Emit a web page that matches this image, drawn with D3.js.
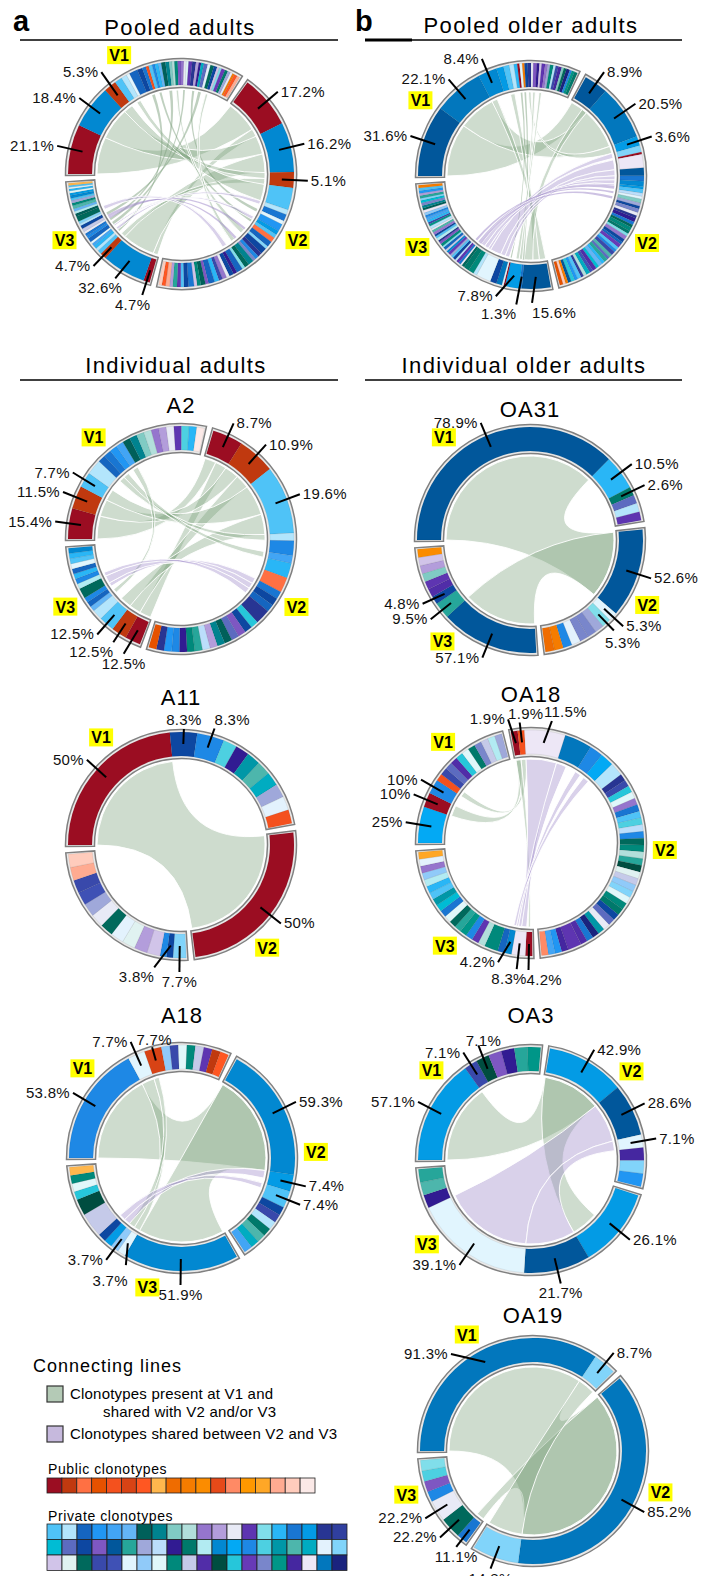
<!DOCTYPE html>
<html><head><meta charset="utf-8">
<script src="https://cdn.jsdelivr.net/npm/d3@7"></script>
<style>body{margin:0;background:#fff}svg{display:block}</style>
</head><body>
<svg id="c" width="706" height="1576"></svg>
<script>
// ================= DATA =================
const publicColors = ["#9b0d22","#c0390f","#ff7043","#e65100","#f4511e","#d84315","#ff5722","#ffb74d","#ef6c00","#f57c00","#fb8c00","#e64a19","#ff8a65","#ff9800","#ffa726","#ffab91","#ffccbc","#fbe9e7"];
const privateColors = [
 "#4fc3f7","#b3e5fc","#1565c0","#2196f3","#42a5f5","#64b5f6","#00605a","#00838f","#80cbc4","#b2dfdb","#9575cd","#b39ddb","#e8eaf6","#5e35b1","#80deea","#29b6f6","#1976d2","#039be5","#283593","#303f9f",
 "#00bcd4","#5c6bc0","#0d47a1","#7e57c2","#01579b","#26a69a","#9fa8da","#bbdefb","#311b92","#00796b","#b2ebf2","#0288d1","#03a9f4","#1e88e5","#4dd0e1","#0097a7","#4db6ac","#00acc1","#e3f2fd","#81d4fa",
 "#d1c4e9","#e0f2f1","#00695c","#3949ab","#3f51b5","#e1f5fe","#90caf9","#e0f7fa","#00897b","#c5cae9","#512da8","#004d40","#26c6da","#673ab7","#7986cb","#009688","#4527a0","#ede7f6","#0277bd","#1a237e"];

// Segments: [percent, colour key]  ("rN" = public colour N, number = private colour index)
// Ribbons: [sector, segment, sector, segment, "g"|"p", optional fraction range, optional fraction range]

// ---- Pooled adults ----
const paSizes = [121,155,69];
const paV1 = [[21.1,"r0"],[18.4,31],[5.3,"r1"],[3.2,0],[2.4,1],[1.4,45],[3.6,2],[2.2,22],[1.6,16],[1.2,"r4"],[1.5,0],[1.2,33],[1.5,15],[1.2,5],[1.8,6],[1.6,7],[1.2,8],[1.0,9],[1.4,48],[1.4,23],[1.2,10],[1.0,12],[1.0,47],[1.5,13],[1.6,18],[1.2,11],[1.0,28],[1.2,37],[1.6,21],[1.2,38],[1.5,42],[1.4,22],[1.0,40],[1.0,14],[1.5,53],[1.3,29],[1.2,26],[1.0,12],[0.8,"r9"],[1.4,"r6"],[1.2,"r15"]];
const paV2 = [[17.2,"r0"],[16.2,31],[5.1,"r1"],[7.2,0],[1.6,1],[2.2,16],[1.2,45],[2.4,3],[1.4,17],[1.2,0],[1.6,"r2"],[1.8,2],[1.0,39],[2.0,22],[1.4,18],[1.2,33],[1.0,54],[1.8,7],[1.5,42],[1.0,14],[2.0,2],[1.2,28],[1.5,22],[1.0,12],[1.4,10],[1.2,43],[1.5,15],[2.0,2],[1.0,23],[1.5,6],[1.2,48],[1.0,40],[1.8,16],[1.5,22],[1.0,0],[1.2,13],[1.4,25],[1.0,11],[1.3,"r15"],[1.2,"r6"],[1.0,"r16"]];
const paV3 = [[4.7,"r0"],[32.6,31],[4.7,"r1"],[3.0,0],[2.2,1],[2.6,15],[2.0,4],[1.6,45],[3.0,2],[2.2,33],[2.0,16],[1.8,12],[2.4,49],[2.6,22],[1.6,1],[1.8,39],[4.0,42],[2.2,6],[1.8,30],[2.0,5],[2.4,36],[2.0,48],[1.9,26],[1.6,0],[2.2,31],[1.8,17],[1.6,47],[1.5,15],[1.2,45],[1.4,0],[1.6,"r7"]];
const paRib = [[0,0,1,0,"g",null,[0,0.8]],[2,0,1,0,"g",null,[0.8,1]],[0,1,1,1,"g",null,[0,0.5]],[2,1,1,1,"g",null,[0.5,1]],[0,2,1,2,"g",null,[0,0.5]],[2,2,1,2,"g",null,[0.5,1]],
 [0,4,1,3,"g"],[0,8,2,4,"g"],[0,11,1,9,"g"],[0,15,2,10,"g"],[0,18,1,13,"g"],[0,21,2,8,"g"],[0,25,1,6,"g"],[0,28,2,13,"g"],[0,31,1,17,"g"],
 [1,4,2,5,"p"],[1,8,2,7,"p"],[1,12,2,11,"p"],[1,16,2,12,"p"],[1,20,2,16,"p"]];
const paLab = [[0,0],[0,1],[0,2],[1,0],[1,1],[1,2],[2,0],[2,1],[2,2]];

// ---- Pooled older adults ----
const pbSizes = [115,137,96];
const pbV1 = [[31.6,24],[22.1,58],[8.4,31],[3.2,17],[2.6,0],[2.0,1],[1.5,15],[1.0,"r0"],[1.2,45],[1.0,"r9"],[1.4,22],[1.5,18],[1.0,12],[1.5,23],[1.2,28],[1.0,40],[1.5,13],[1.2,10],[1.0,26],[1.5,48],[1.0,1],[1.2,43],[1.5,56],[1.0,8],[1.2,42],[1.5,59],[1.0,33],[1.2,55],[1.4,29]];
const pbV2 = [[8.9,24],[20.5,58],[3.6,17],[2.5,39],[0.8,"r0"],[5.0,57],[3.0,24],[2.0,16],[2.0,31],[1.0,17],[1.5,0],[1.2,27],[1.0,45],[1.5,8],[1.2,26],[1.0,22],[1.5,54],[1.2,12],[1.0,18],[1.5,28],[1.2,16],[1.0,42],[1.5,48],[1.2,29],[1.0,14],[1.5,10],[1.2,22],[1.0,2],[1.5,53],[1.2,0],[1.0,33],[1.5,43],[1.2,36],[1.0,21],[1.4,25],[1.2,15],[1.5,5],[1.2,20],[1.5,50],[1.3,44],[1.5,37],[1.2,9],[1.0,19],[1.4,0],[1.2,3],[1.4,52],[1.2,24],[1.0,"r9"],[1.0,"r16"],[1.2,"r3"]];
const pbV3 = [[15.6,24],[1.3,16],[7.8,17],[0.8,"r0"],[1.0,45],[3.0,58],[3.5,22],[8.0,45],[2.0,1],[3.0,48],[3.0,29],[1.5,42],[1.0,12],[1.2,16],[1.5,13],[1.0,27],[1.5,22],[1.2,0],[1.0,26],[1.5,53],[1.2,31],[1.0,49],[1.5,2],[1.0,14],[1.5,48],[1.2,23],[1.0,18],[1.5,30],[1.2,0],[1.0,22],[1.5,10],[1.2,36],[1.0,12],[1.5,1],[1.2,55],[1.0,43],[1.4,15],[1.5,4],[1.2,33],[1.5,46],[1.4,57],[1.2,6],[1.4,7],[1.5,54],[1.3,20],[1.2,39],[1.5,25],[1.2,11],[1.5,3],[1.4,0],[1.5,"r9"]];
const pbRib = [[0,0,1,0,"g"],[0,1,1,1,"g"],[0,2,2,0,"g",[0,0.4],[0,0.3]],[0,4,2,0,"g",null,[0.3,0.6]],[1,0,2,0,"g",[0.7,1],[0.6,1]],[0,7,2,3,"g"],[0,9,2,1,"g"],[0,11,1,2,"g"],[0,13,2,2,"g",null,[0,0.3]],[0,16,2,2,"g",null,[0.3,0.6]],
 [1,3,2,8,"p"],[1,5,2,7,"p"],[1,6,2,6,"p"],[1,7,2,5,"p"],[1,8,2,9,"p"],[1,9,2,10,"p"],[1,10,2,12,"p"],[1,12,2,14,"p"],[1,14,2,11,"p"]];
const pbLab = [[0,0],[0,1],[0,2],[1,0],[1,1],[1,2],[2,2],[2,1],[2,0]];

// ---- A2 ----
const a2Sizes = [102,180,64];
const a2V1 = [[15.4,"r0"],[11.5,"r1"],[7.7,0],[7.7,1],[3.8,2],[3.8,16],[3.8,3],[3.8,4],[3.8,6],[3.8,7],[3.8,8],[3.8,9],[3.8,10],[3.8,11],[3.8,12],[3.8,13],[3.8,34],[3.8,15],[3.8,"r17"]];
const a2V2 = [[8.7,"r0"],[10.9,"r1"],[19.6,0],[2.2,1],[4.3,33],[2.2,4],[4.3,15],[4.3,"r2"],[2.2,16],[2.2,22],[2.2,2],[4.3,18],[2.2,52],[2.2,22],[2.2,23],[2.2,21],[2.2,6],[2.2,7],[2.2,11],[2.2,27],[2.2,25],[2.2,48],[2.2,28],[2.2,33],[2.2,3],[2.2,18],[2.2,"r3"]];
const a2V3 = [[12.5,"r0"],[12.5,"r1"],[12.5,0],[8.3,1],[4.2,5],[4.2,2],[4.2,33],[8.3,42],[4.2,30],[4.2,33],[4.2,15],[4.2,2],[4.2,45],[4.2,0],[4.2,15],[4.2,31]];
const a2Rib = [[0,0,1,0,"g",null,[0,0.5]],[2,0,1,0,"g",null,[0.5,1]],[0,1,1,1,"g",null,[0,0.5]],[2,1,1,1,"g",null,[0.5,1]],[0,2,1,2,"g",null,[0,0.6]],[2,2,1,2,"g",null,[0.6,1]],
 [0,4,1,3,"g"],[0,5,1,5,"g"],[0,7,2,4,"g"],[1,8,2,6,"p"],[1,9,2,7,"p"],[1,10,2,8,"p"]];
const a2Lab = [[0,0],[0,1],[0,2],[1,0],[1,1],[1,2],[2,0],[2,1],[2,2]];

// ---- OA31 ----
const o31Sizes = [169,87,88];
const o31V1 = [[78.9,24],[10.5,15],[2.6,29],[2.6,21],[2.6,1],[2.6,13]];
const o31V2 = [[52.6,24],[5.3,45],[5.3,14],[5.3,26],[5.3,54],[5.3,54],[5.3,38],[5.3,33],[5.3,"r9"],[5.3,"r8"]];
const o31V3 = [[57.1,24],[9.5,25],[4.8,22],[4.8,50],[4.8,13],[4.8,8],[4.8,11],[4.8,40],[4.8,"r10"]];
const o31Rib = [[0,0,1,0,"g"],[1,0,2,0,"g"]];
const o31Lab = [[0,0],[0,1],[0,2],[1,0],[1,1],[1,2],[2,0],[2,1],[2,2]];

// ---- A11 ----
const a11Sizes = [169,89,88];
const a11V1 = [[50,"r0"],[8.3,22],[8.3,33],[4.2,34],[4.2,28],[4.2,35],[4.2,36],[4.2,37],[4.2,26],[4.2,38],[4.2,"r4"]];
const a11V2 = [[50,"r0"]];
const a11V3 = [[7.7,39],[3.8,22],[3.8,33],[7.7,40],[7.7,11],[7.7,41],[7.7,38],[7.7,42],[7.7,12],[7.7,26],[7.7,44],[7.7,43],[7.7,"r15"],[7.7,"r16"]];
const a11Rib = [[0,0,1,0,"g"]];
const a11Lab = [[0,0],[0,1],[0,2],[1,0],[2,1],[2,0]];

// ---- OA18 ----
const o18Sizes = [75,185,86];
const o18V1 = [[25,32],[10,"r0"],[10,33],[5,"r4"],[5,43],[5,21],[5,50],[5,52],[5,47],[5,29],[5,54],[5,49],[5,30],[5,26]];
const o18V2 = [[1.9,"r0"],[1.9,"r4"],[11.5,57],[7.7,58],[3.8,33],[3.8,32],[3.8,1],[1.9,18],[1.9,43],[1.9,52],[1.9,47],[1.9,10],[1.9,16],[1.9,0],[1.9,34],[1.9,27],[1.9,33],[1.9,42],[1.9,48],[1.9,9],[1.9,25],[1.9,51],[1.9,41],[1.9,49],[1.9,46],[1.9,39],[1.9,47],[1.9,48],[1.9,29],[1.9,22],[1.9,21],[1.9,12],[1.9,35],[1.9,59],[1.9,16],[1.9,50],[3.8,13],[1.9,56],[1.9,3],[1.9,4],[1.9,"r12"]];
const o18V3 = [[4.2,"r0"],[8.3,57],[4.2,31],[4.2,2],[8.3,48],[4.2,9],[4.2,13],[4.2,33],[4.2,55],[4.2,25],[4.2,42],[4.2,47],[4.2,16],[4.2,20],[4.2,35],[4.2,0],[4.2,15],[4.2,30],[4.2,46],[4.2,10],[4.2,38],[4.2,"r14"]];
const o18Rib = [[0,1,1,0,"g"],[0,3,1,1,"g"],[1,0,2,0,"g",null,[0.3,0.7]],
 [1,2,2,1,"p",null,[0,0.5]],[1,3,2,1,"p",[0,0.5],[0.5,0.8]],[1,4,2,1,"p",[0,0.6],[0.8,1]],[1,5,2,2,"p",[0,0.6],[0,0.5]]];
const o18Lab = [[0,0],[0,1],[0,2],[1,0],[1,1],[1,2],[2,0],[2,1],[2,2]];

// ---- A18 ----
const a18Sizes = [114,117,114];
const a18V1 = [[53.8,33],[7.7,45],[7.7,"r5"],[3.8,46],[3.8,43],[3.8,47],[3.8,48],[3.8,49],[3.8,13],[3.8,"r1"],[3.8,"r6"]];
const a18V2 = [[59.3,31],[7.4,17],[7.4,0],[3.7,22],[3.7,43],[3.7,1],[3.7,29],[3.7,36],[3.7,37],[3.7,4]];
const a18V3 = [[51.9,31],[3.7,45],[3.7,46],[3.7,17],[3.7,22],[11.1,49],[7.4,51],[3.7,52],[3.7,47],[3.7,48],[3.7,"r7"]];
const a18Rib = [[0,0,1,0,"g"],[1,0,2,0,"g"],[0,1,2,1,"g"],[0,2,2,2,"g",[0,0.4]],[1,1,2,3,"p",[0,0.6]],[1,2,2,4,"p",[0,0.4]]];
const a18Lab = [[0,0],[0,1],[0,2],[1,0],[1,1],[1,2],[2,0],[2,1],[2,2]];

// ---- OA3 ----
const o3Sizes = [95,94,157];
const o3V1 = [[57.1,17],[7.1,43],[7.1,51],[7.1,23],[7.1,28],[7.1,25],[7.1,55]];
const o3V2 = [[42.9,17],[28.6,24],[7.1,45],[7.1,56],[7.1,39],[7.1,3]];
const o3V3 = [[26.1,17],[21.7,24],[39.1,45],[4.3,28],[4.3,36],[4.3,25]];
const o3Rib = [[0,0,1,0,"g"],[1,0,2,0,"g",null,[0.55,1]],[1,1,2,2,"p"],[1,2,2,1,"p"]];
const o3Lab = [[0,0],[0,1],[0,2],[1,0],[1,1],[1,2],[2,0],[2,1],[2,2]];

// ---- OA19 ----
const o19Sizes = [135,161,49];
const o19V1 = [[91.3,58],[8.7,39]];
const o19V2 = [[85.2,58],[14.8,39]];
const o19V3 = [[11.1,16],[22.2,42],[22.2,12],[11.1,33],[11.1,23],[11.1,34],[11.1,14]];
const o19Rib = [[0,0,1,0,"g"],[1,0,2,0,"g"],[0,1,1,1,"g"]];
const o19Lab = [[0,0],[0,1],[1,0],[1,1],[2,2],[2,1],[2,0]];

const sectorNames = ["V1","V2","V3"];
const legendItems = [["g","Clonotypes present at V1 and","shared with V2 and/or V3"],["p","Clonotypes shared between V2 and V3",""]];

// ================= LAYOUT =================
const F = "'Liberation Sans', Arial, Helvetica, sans-serif";
const GREEN = "#7fa27f", PURPLE = "#9c86c8";
const GAP = 4.7, R_IN = 89, R_OUT = 113, R_RIB = 84;
const diagrams = [
 {cx:181, cy:174, sizes:paSizes, secs:[paV1,paV2,paV3], ribbons:paRib, labels:paLab, v:[-27.5,119.6,240.4],
  nudge:{"2,0":[0,0,"end","below",8], "2,1":[-1,-5,"end","below",7], "0,2":[0,-3]}},
 {cx:531, cy:176, sizes:pbSizes, secs:[pbV1,pbV2,pbV3], ribbons:pbRib, labels:pbLab, v:[-55.6,120,238],
  nudge:{"2,0":[-5,0,"start","below"], "2,1":[-3,2,"end","below"], "2,2":[-14,-5,"end","side"]}},
 {cx:181, cy:539, title:"A2", ty:413, sizes:a2Sizes, secs:[a2V1,a2V2,a2V3], ribbons:a2Rib, labels:a2Lab, v:[-40.7,120.5,239.7],
  nudge:{"2,0":[-3,0,"middle","below"], "2,1":[2,-3,"end","below"]}},
 {cx:530, cy:540, title:"OA31", ty:417, sizes:o31Sizes, secs:[o31V1,o31V2,o31V3], ribbons:o31Rib, labels:o31Lab, v:[-40,119,220.8],
  nudge:{"1,2":[-2,-3,"start","below",-9,2], "2,2":[0,-4]}},
 {cx:181, cy:845, title:"A11", ty:705, sizes:a11Sizes, secs:[a11V1,a11V2,a11V3], ribbons:a11Rib, labels:a11Lab, v:[-36.6,140,null],
  nudge:{"0,1":[0,11], "0,2":[0,6,"start","above"], "2,1":[-14,-4,"end","below"]}},
 {cx:531, cy:843, title:"OA18", ty:702, sizes:o18Sizes, secs:[o18V1,o18V2,o18V3], ribbons:o18Rib, labels:o18Lab, v:[-41,93,220],
  nudge:{"1,0":[-4,2,"end","side"], "1,1":[0,6,"middle","above",6], "1,2":[5,4,"start","above",-8], "2,0":[0,0,"start","below",-2], "2,1":[0,0,"end","below",10], "2,2":[-7,-5,"end","side"]}},
 {cx:182, cy:1158, title:"A18", ty:1023, sizes:a18Sizes, secs:[a18V1,a18V2,a18V3], ribbons:a18Rib, labels:a18Lab, v:[-48,87.4,195],
  nudge:{"0,2":[3,12,"middle","above",2,2], "2,1":[12,0,"end","below",2,6]}},
 {cx:531, cy:1160, title:"OA3", ty:1023, sizes:o3Sizes, secs:[o3V1,o3V2,o3V3], ribbons:o3Rib, labels:o3Lab, v:[-48,48.6,231],
  nudge:{"0,2":[2,0,"middle","above",5,5]}},
 {cx:533, cy:1451, title:"OA19", ty:1323, sizes:o19Sizes, secs:[o19V1,o19V2,o19V3], ribbons:o19Rib, labels:o19Lab, v:[-29.6,108,251],
  nudge:{"0,0":[-22,15,"end","side"], "2,0":[3,-3,"middle","below"], "1,1":[0,-2]}}
];

// ================= DRAW =================
const svg = d3.select("#c");
const col = c => typeof c === "string" ? publicColors[+c.slice(1)] : privateColors[c];
const rad = d => d * Math.PI / 180;
const fmt = v => (Number.isInteger(v) ? v : v.toFixed(1)) + "%";

function drawDiagram(d) {
  const g = svg.append("g").attr("transform", `translate(${d.cx},${d.cy})`);
  const secScale = d3.scaleLinear().domain([0, d3.sum(d.sizes)]).range([0, 360 - 3 * GAP]);
  let start = -90;
  const secs = d.sizes.map(s => { const a = [start, start + secScale(s)]; start = a[1] + GAP; return a; });
  const segs = d.secs.map((vals, si) => {
    const sc = d3.scaleLinear().domain([0, d3.sum(vals, v => v[0])]).range(secs[si]);
    let acc = 0;
    return vals.map(v => { const o = {a0: sc(acc), a1: sc(acc + v[0]), v: v[0], c: col(v[1])}; acc += v[0]; return o; });
  });
  // ribbons
  const rib = d3.ribbon().radius(R_RIB);
  const end = (s, i, f) => { const sg = segs[s][i]; const [p, q] = f || [0, 1]; const w = sg.a1 - sg.a0;
    return {startAngle: rad(sg.a0 + p * w), endAngle: rad(sg.a0 + q * w)}; };
  d.ribbons.forEach(r => {
    const src = end(r[0], r[1], r[5]), tgt = end(r[2], r[3], r[6]);
    const thin = (src.endAngle - src.startAngle) < rad(2.2) && (tgt.endAngle - tgt.startAngle) < rad(2.2);
    g.append("path").attr("d", rib({source: src, target: tgt}))
      .attr("fill", r[4] === "g" ? GREEN : PURPLE)
      .attr("fill-opacity", thin ? 0.5 : 0.38)
      .attr("stroke", thin ? "none" : "#fff").attr("stroke-width", 0.9);
  });
  // sector outline
  const arcO = d3.arc().innerRadius(86.5).outerRadius(115.5);
  g.selectAll(null).data(secs).join("path")
    .attr("d", a => arcO({startAngle: rad(a[0] - 0.8), endAngle: rad(a[1] + 0.8)}))
    .attr("fill", "#e9e9e9").attr("stroke", "#808080").attr("stroke-width", 1.5);
  // segments
  const arcS = d3.arc().innerRadius(R_IN).outerRadius(R_OUT);
  g.selectAll(null).data(segs.flat()).join("path")
    .attr("d", s => arcS({startAngle: rad(s.a0), endAngle: rad(s.a1)}))
    .attr("fill", s => s.c).attr("stroke", "rgba(0,0,0,0.13)").attr("stroke-width", 0.5);
  // percentage labels
  d.labels.forEach(([si, idx]) => {
    const s = segs[si][idx];
    const m = rad((s.a0 + s.a1) / 2), sn = Math.sin(m), cs = Math.cos(m);
    const [dx = 0, dy = 0, anc, place, tdx = 0, tdy = 0] = d.nudge[si + "," + idx] || [];
    const x0 = 101 * sn, y0 = -101 * cs, x1 = 127 * sn + dx, y1 = -127 * cs + dy;
    let anchor, pl;
    if (Math.abs(sn) > 0.35) { anchor = sn > 0 ? "start" : "end"; pl = "side"; }
    else { anchor = "middle"; pl = cs > 0 ? "above" : "below"; }
    if (anc) anchor = anc; if (place) pl = place;
    g.append("line").attr("x1", x0).attr("y1", y0).attr("x2", x1).attr("y2", y1)
      .attr("stroke", "#000").attr("stroke-width", 2);
    let tx = x1, ty = y1;
    if (pl === "side") { tx += anchor === "start" ? 3 : anchor === "end" ? -3 : 0; ty += 5; }
    else if (pl === "above") ty -= 4; else ty += 15;
    g.append("text").attr("x", tx + tdx).attr("y", ty + tdy).attr("text-anchor", anchor)
      .attr("font-family", F).attr("font-size", 15).attr("letter-spacing", 0.3).attr("fill", "#111")
      .text(fmt(s.v));
  });
  // V labels
  d.v.forEach((a, i) => {
    if (a === null) return;
    const x = 134 * Math.sin(rad(a)), y = -134 * Math.cos(rad(a));
    g.append("rect").attr("x", x - 12).attr("y", y - 9).attr("width", 24).attr("height", 18).attr("fill", "#ffff00");
    g.append("text").attr("x", x).attr("y", y + 6).attr("text-anchor", "middle")
      .attr("font-family", F).attr("font-weight", "bold").attr("font-size", 16).text(sectorNames[i]);
  });
  if (d.title) svg.append("text").attr("x", d.cx).attr("y", d.ty).attr("text-anchor", "middle")
    .attr("font-family", F).attr("font-size", 22).attr("letter-spacing", 1).text(d.title);
}
diagrams.forEach(drawDiagram);

// headers
const headers = [["Pooled adults",180,35,20,338,40],["Pooled older adults",531,33,365,682,40],["Individual adults",176,373,20,338,380],["Individual older adults",524,373,365,682,380]];
headers.forEach(([t, x, y, l0, l1, ly]) => {
  svg.append("text").attr("x", x).attr("y", y).attr("text-anchor", "middle").attr("font-family", F)
    .attr("font-size", 22).attr("letter-spacing", 1.4).text(t);
  svg.append("line").attr("x1", l0).attr("x2", l1).attr("y1", ly).attr("y2", ly).attr("stroke", "#000").attr("stroke-width", 1.6);
});
svg.append("line").attr("x1", 365).attr("x2", 412).attr("y1", 40).attr("y2", 40).attr("stroke", "#000").attr("stroke-width", 3);
[["a",13],["b",355]].forEach(([t, x]) => svg.append("text").attr("x", x).attr("y", 31).attr("font-family", F)
  .attr("font-weight", "bold").attr("font-size", 29).text(t));

// legend
svg.append("text").attr("x", 33).attr("y", 1372).attr("font-family", F).attr("font-size", 18).attr("letter-spacing", 1).text("Connecting lines");
legendItems.forEach(([k, t1, t2], i) => {
  const y = 1386 + i * 40;
  svg.append("rect").attr("x", 47).attr("y", y).attr("width", 16).attr("height", 16)
    .attr("fill", k === "g" ? "#b4cab6" : "#c6b9dd").attr("stroke", "#333").attr("stroke-width", 1.2);
  svg.append("text").attr("x", 70).attr("y", y + 13).attr("font-family", F).attr("font-size", 15).attr("letter-spacing", 0.2).text(t1);
  if (t2) svg.append("text").attr("x", 103).attr("y", y + 31).attr("font-family", F).attr("font-size", 15).attr("letter-spacing", 0.2).text(t2);
});
svg.append("text").attr("x", 48).attr("y", 1474).attr("font-family", F).attr("font-size", 14).attr("letter-spacing", 0.6).text("Public clonotypes");
const pubX = d3.scaleBand().domain(d3.range(publicColors.length)).range([47, 315]);
svg.selectAll(null).data(publicColors).join("rect")
  .attr("x", (c, i) => pubX(i)).attr("y", 1478).attr("width", pubX.bandwidth()).attr("height", 15)
  .attr("fill", c => c).attr("stroke", "#222").attr("stroke-width", 0.8);
svg.append("text").attr("x", 48).attr("y", 1521).attr("font-family", F).attr("font-size", 14).attr("letter-spacing", 0.6).text("Private clonotypes");
const privX = d3.scaleBand().domain(d3.range(20)).range([47, 347]);
svg.selectAll(null).data(privateColors).join("rect")
  .attr("x", (c, i) => privX(i % 20)).attr("y", (c, i) => 1524 + Math.floor(i / 20) * 15.5)
  .attr("width", privX.bandwidth()).attr("height", 15.5)
  .attr("fill", c => c).attr("stroke", "#222").attr("stroke-width", 0.8);
</script>
</body></html>
